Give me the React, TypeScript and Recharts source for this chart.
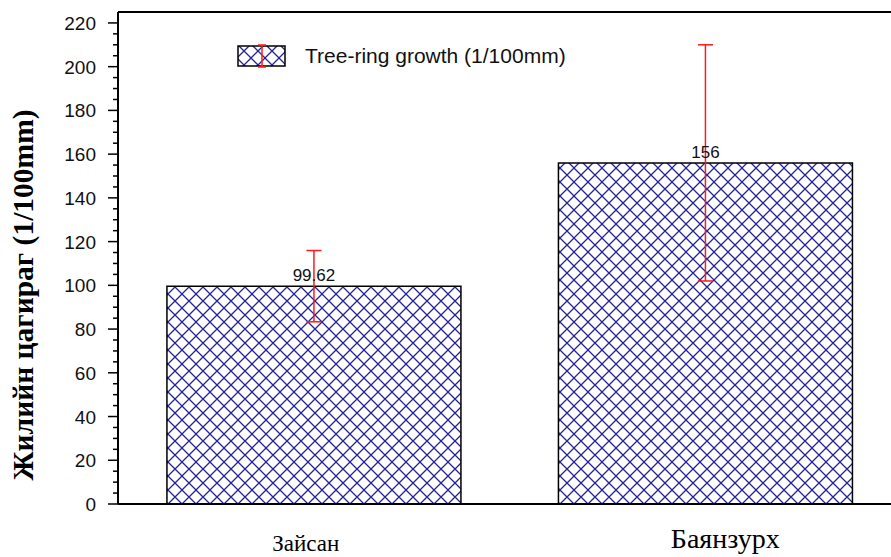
import React from 'react';
import { BarChart, Bar, XAxis, YAxis, ErrorBar, LabelList, Legend, ReferenceLine } from 'recharts';

const categories = ['Зайсан', 'Баянзурх'];
const growth = [99.62, 156];
const growthError = [16.3, 54];
const yTicks = [
  0, 5, 10, 15, 20, 25, 30, 35, 40, 45, 50, 55, 60, 65, 70, 75, 80, 85, 90, 95,
  100, 105, 110, 115, 120, 125, 130, 135, 140, 145, 150, 155, 160, 165, 170, 175,
  180, 185, 190, 195, 200, 205, 210, 215, 220,
];

const data = categories.map((name, i) => ({ name, value: growth[i], err: growthError[i] }));

const SANS = '"Liberation Sans", Arial, sans-serif';
const SERIF = '"Liberation Serif", "Times New Roman", serif';
const HATCH = '#23239b';

// per-category label look (the second label is set bigger in the source)
const xTickStyle = [
  { size: 23, dx: -8, dy: 47 },
  { size: 28, dx: 20, dy: 44 },
];

function YTick({ x, y, payload }: any) {
  const major = payload.value % 20 === 0;
  return (
    <g>
      <line x1={x - (major ? 10 : 5)} x2={x} y1={y} y2={y} stroke="#000" strokeWidth={1.5} />
      {major && (
        <text x={x - 22} y={y} dy={7} textAnchor="end" fontSize={19} fontFamily={SANS} fill="#111">
          {payload.value}
        </text>
      )}
    </g>
  );
}

function XTick({ x, y, payload, index }: any) {
  const s = xTickStyle[index] || xTickStyle[0];
  return (
    <text x={x + s.dx} y={y + s.dy} textAnchor="middle" fontSize={s.size} fontFamily={SERIF} fill="#000">
      {payload.value}
    </text>
  );
}

function LegendContent() {
  return (
    <div style={{ display: 'flex', alignItems: 'center', fontFamily: SANS, fontSize: 21, color: '#111', whiteSpace: 'nowrap' }}>
      <svg width={49} height={24}>
        <defs>
          <pattern id="hatchLegend" patternUnits="userSpaceOnUse" width={14} height={14}>
            <rect width={14} height={14} fill="#fff" />
            <path d="M0,0 L14,14 M14,0 L0,14" stroke={HATCH} strokeWidth={1.3} />
          </pattern>
        </defs>
        <rect x={1} y={2} width={47} height={20} fill="url(#hatchLegend)" stroke="#000" strokeWidth={1.5} />
        <line x1={25} x2={25} y1={1} y2={23} stroke="#ff1a1a" strokeWidth={1.5} />
        <line x1={21} x2={29} y1={1} y2={1} stroke="#ff1a1a" strokeWidth={1.5} />
        <line x1={21} x2={29} y1={23} y2={23} stroke="#ff1a1a" strokeWidth={1.5} />
      </svg>
      <span style={{ marginLeft: 19 }}>Tree-ring growth (1/100mm)</span>
    </div>
  );
}

function YTitle() {
  return (
    <text
      transform="translate(33, 295) rotate(-90)"
      textAnchor="middle"
      fontSize={29.5}
      fontWeight="bold"
      fontFamily={SERIF}
      fill="#000"
    >
      Жилийн цагираг (1/100mm)
    </text>
  );
}

export default function App() {
  return (
    <div style={{ position: 'absolute', left: 0, top: 0, width: 891, height: 557, overflow: 'hidden', background: '#fff' }}>
      <BarChart
        width={905}
        height={557}
        data={data}
        margin={{ top: 12, right: 4, left: 0, bottom: 0 }}
        barCategoryGap="12.5%"
      >
        <defs>
          <pattern id="hatch" patternUnits="userSpaceOnUse" width={14} height={14}>
            <rect width={14} height={14} fill="#fff" />
            <path d="M0,0 L14,14 M14,0 L0,14" stroke={HATCH} strokeWidth={1.3} />
          </pattern>
        </defs>
        <XAxis
          dataKey="name"
          height={53}
          tickLine={false}
          tickSize={0}
          tickMargin={0}
          axisLine={{ stroke: '#000', strokeWidth: 2 }}
          tick={<XTick />}
        />
        <YAxis
          width={118}
          domain={[0, 225]}
          ticks={yTicks}
          interval={0}
          tickLine={false}
          tickSize={0}
          tickMargin={0}
          axisLine={{ stroke: '#000', strokeWidth: 2 }}
          tick={<YTick />}
          label={<YTitle />}
        />
        <ReferenceLine y={225} stroke="#000" strokeWidth={2} />
        <Legend
          layout="horizontal"
          verticalAlign="middle"
          align="center"
          content={<LegendContent />}
          wrapperStyle={{ left: 237, top: 44, width: 'auto' }}
        />
        <Bar dataKey="value" fill="url(#hatch)" stroke="#000" strokeWidth={1.5} isAnimationActive={false}>
          <LabelList dataKey="value" position="top" offset={5} fontSize={17} fontFamily={SANS} fill="#111" />
          <ErrorBar dataKey="err" width={7.5} stroke="#ff1a1a" strokeWidth={1.5} direction="y" isAnimationActive={false} />
        </Bar>
      </BarChart>
    </div>
  );
}
